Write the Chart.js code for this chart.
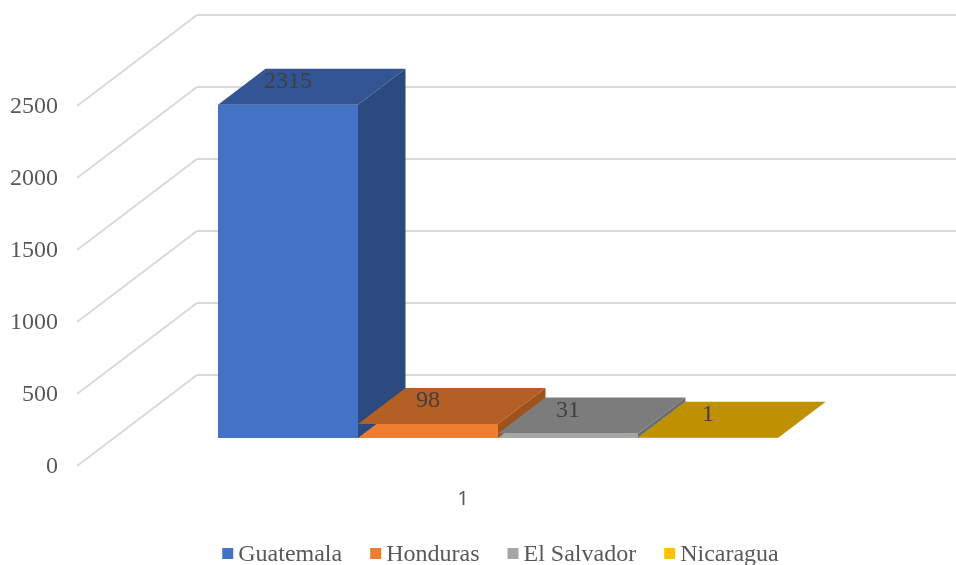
<!DOCTYPE html>
<html lang="en">
<head>
   <meta charset="UTF-8">
   <title>Guatemala Honduras El Salvador Nicaragua</title>
   <script src="https://cdn.jsdelivr.net/npm/chart.js"></script>
   <style>
      html, body { margin: 0; padding: 0; background: #fff; }
      canvas { display: block; }
   </style>
</head>
<body>
   <canvas id="chart" width="956" height="565"></canvas>

   <script>
      // Data
      const categories = ['1'];
      const countries = ['Guatemala', 'Honduras', 'El Salvador', 'Nicaragua'];
      const values = [2315, 98, 31, 1];
      const yTicks = [0, 500, 1000, 1500, 2000, 2500];

      // Faces of each 3D bar
      const frontColors = ['#4472C4', '#ED7D31', '#A5A5A5', '#FFC000'];
      const topColors = ['#335593', '#B45F24', '#7C7C7C', '#BF9000'];
      const sideColors = ['#2A4A80', '#A0521C', '#6E6E6E', '#A67D00'];

      const serif = '"Liberation Serif", "Times New Roman", serif';

      // The bars stand in front of the floor, which runs back from the axis
      const barShiftX = 35, barShiftY = -28;
      const depthX = 47.5, depthY = -36;
      const wallX = 120, wallY = -91;

      const perspective = {
         id: 'perspective',
         beforeDatasetsDraw(chart) {
            const { ctx, chartArea, scales } = chart;
            ctx.save();
            ctx.strokeStyle = '#D9D9D9';
            ctx.lineWidth = 2;
            yTicks.forEach(v => {
               const y = scales.y.getPixelForValue(v);
               ctx.beginPath();
               ctx.moveTo(chartArea.left, y);
               ctx.lineTo(chartArea.left + wallX, y + wallY);
               ctx.lineTo(chart.width, y + wallY);
               ctx.stroke();
            });
            ctx.restore();
            ctx.save();
            ctx.translate(barShiftX, barShiftY);
         },
         afterDatasetsDraw(chart) {
            const { ctx } = chart;
            values.forEach((v, i) => {
               const bar = chart.getDatasetMeta(i).data[0];
               const left = bar.x - bar.width / 2, right = bar.x + bar.width / 2;
               // top face
               ctx.fillStyle = topColors[i];
               ctx.beginPath();
               ctx.moveTo(left, bar.y);
               ctx.lineTo(left + depthX, bar.y + depthY);
               ctx.lineTo(right + depthX, bar.y + depthY);
               ctx.lineTo(right, bar.y);
               ctx.closePath();
               ctx.fill();
               // side face
               ctx.fillStyle = sideColors[i];
               ctx.beginPath();
               ctx.moveTo(right, bar.y);
               ctx.lineTo(right + depthX, bar.y + depthY);
               ctx.lineTo(right + depthX, bar.base + depthY);
               ctx.lineTo(right, bar.base);
               ctx.closePath();
               ctx.fill();
            });
            // value labels sit on the top faces
            ctx.font = '24px ' + serif;
            ctx.fillStyle = '#404040';
            ctx.textAlign = 'center';
            ctx.textBaseline = 'middle';
            values.forEach((v, i) => {
               const bar = chart.getDatasetMeta(i).data[0];
               ctx.fillText(String(v), bar.x, bar.y - 23);
            });
            ctx.restore();
         },
         afterDraw(chart) {
            // legend with the tight box-to-text gap of the original
            const { ctx } = chart;
            const boxSize = 11, boxGap = 5, itemGap = 28;
            ctx.save();
            ctx.font = '24px ' + serif;
            ctx.textBaseline = 'middle';
            ctx.textAlign = 'left';
            const widths = countries.map(c => ctx.measureText(c).width);
            const total = widths.reduce((a, b) => a + b, 0) + countries.length * (boxSize + boxGap) + (countries.length - 1) * itemGap;
            let x = 500.5 - total / 2;
            countries.forEach((c, i) => {
               ctx.fillStyle = frontColors[i];
               ctx.fillRect(x, 548, boxSize, boxSize);
               ctx.fillStyle = '#595959';
               ctx.fillText(c, x + boxSize + boxGap, 555);
               x += boxSize + boxGap + widths[i] + itemGap;
            });
            ctx.restore();
         }
      };

      new Chart(document.getElementById('chart'), {
         type: 'bar',
         data: {
            labels: categories,
            datasets: countries.map((c, i) => ({
               label: c,
               data: [values[i]],
               backgroundColor: frontColors[i],
               categoryPercentage: 0.7254,
               barPercentage: 1,
               clip: false
            }))
         },
         options: {
            responsive: false,
            animation: false,
            layout: { padding: { top: 106, right: 107, left: 0, bottom: 0 } },
            plugins: { legend: { display: false }, tooltip: { enabled: false } },
            scales: {
               x: {
                  afterFit: scale => { scale.height = 99; },
                  grid: { display: false },
                  border: { display: false },
                  ticks: { padding: 13, color: '#595959', font: { family: '"Noto Sans", sans-serif', size: 20 } }
               },
               y: {
                  min: 0,
                  max: 2500,
                  afterFit: scale => { scale.width = 77; },
                  afterBuildTicks: scale => { scale.ticks = yTicks.map(v => ({ value: v })); },
                  grid: { display: false, drawTicks: false },
                  border: { display: false },
                  ticks: {
                     padding: 19,
                     labelOffset: 1,
                     color: '#595959',
                     font: { family: serif, size: 24 },
                     callback: v => String(v)
                  }
               }
            }
         },
         plugins: [perspective]
      });
   </script>
</body>
</html>
